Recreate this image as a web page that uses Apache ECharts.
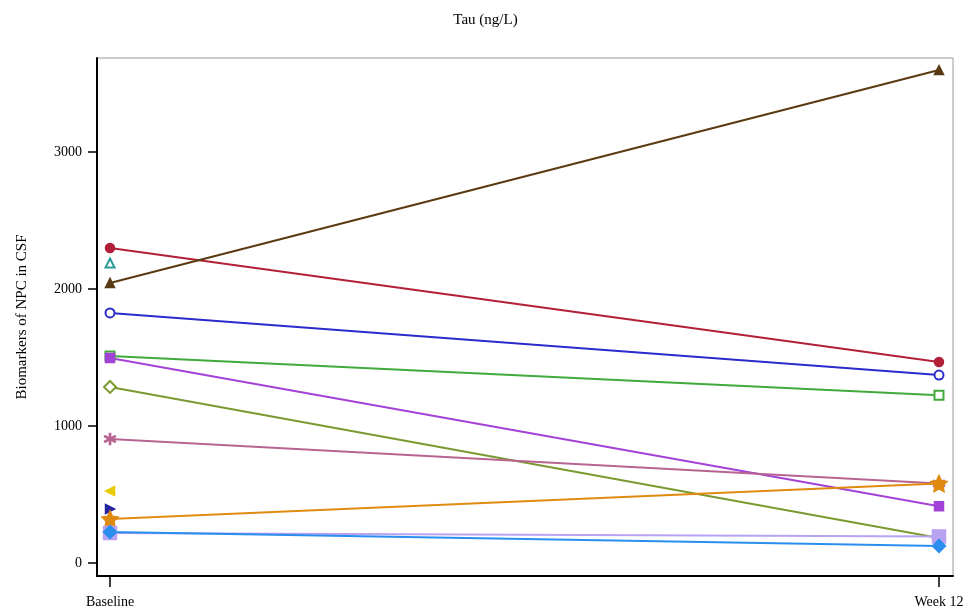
<!DOCTYPE html>
<html><head><meta charset="utf-8">
<script src="https://cdn.jsdelivr.net/npm/echarts@6/dist/echarts.min.js"></script>
<style>html,body{margin:0;padding:0;background:#fff}#c{width:971px;height:616px}</style>
</head><body><div id="c"></div>
<script>
const categories = ['Baseline', 'Week 12'];
const yTicks = [0, 1000, 2000, 3000];
const red = [2299, 1467];
const teal = [2190, null];
const brown = [2044, 3598];
const blue = [1825, 1372];
const green = [1511, 1224];
const purple = [1496, 414];
const olive = [1285, 182];
const mauve = [905, 580];
const yellow = [525, null];
const navy = [394, null];
const orange = [321, 580];
const lavender = [219, 194];
const skyblue = [226, 124];

const STAR = 'path://M0,-10L2.9,-4L9.5,-3.1L4.7,1.5L5.9,8.1L0,5L-5.9,8.1L-4.7,1.5L-9.5,-3.1L-2.9,-4Z';
const AST = 'path://M-1,-10L1,-10L1,10L-1,10Z M-8.2,-5.87L9.2,4.13L8.2,5.87L-9.2,-4.13Z M-9.2,4.13L8.2,-5.87L9.2,-4.13L-8.2,5.87Z';

function mk(name, vals, color, symbol, size, rot) {
  return {
    name, type: 'line', data: vals.map((v, i) => [i, v]),
    symbol, symbolSize: size, symbolRotate: rot || 0, showAllSymbol: true,
    lineStyle: { color, width: 2 }, itemStyle: { color, borderColor: color, borderWidth: 1.5 },
    connectNulls: false, animation: false, z: 3
  };
}

const chart = echarts.init(document.getElementById('c'));
chart.setOption({
  animation: false,
  backgroundColor: '#fff',
  title: { text: 'Tau (ng/L)', left: 'center', top: 8,
    textStyle: { fontFamily: 'Liberation Serif', fontSize: 15, fontWeight: 'normal', color: '#000' } },
  grid: { left: 97, right: 18, top: 58, bottom: 40, show: true, borderColor: '#999', borderWidth: 1,
    outerBoundsMode: 'none', containLabel: false },
  xAxis: {
    type: 'value', min: -0.0157, max: 1.0169,
    axisLine: { show: true, onZero: false, lineStyle: { color: '#000', width: 2 } },
    axisTick: { show: true, customValues: [0, 1], length: 11, inside: false, lineStyle: { color: '#000', width: 1.5 } },
    axisLabel: { customValues: [0, 1], formatter: v => categories[Math.round(v)], margin: 19,
      fontFamily: 'Liberation Serif', fontSize: 14, color: '#000' },
    splitLine: { show: false }
  },
  yAxis: {
    type: 'value', min: -95, max: 3686,
    name: 'Biomarkers of NPC in CSF', nameLocation: 'middle', nameGap: 67,
    nameTextStyle: { fontFamily: 'Liberation Serif', fontSize: 15, color: '#000' },
    axisLine: { show: true, onZero: false, lineStyle: { color: '#000', width: 2 } },
    axisTick: { show: true, customValues: yTicks, length: 9, lineStyle: { color: '#000', width: 1.5 } },
    axisLabel: { customValues: yTicks, formatter: v => String(v), margin: 15, fontFamily: 'Liberation Serif', fontSize: 14, color: '#000' },
    splitLine: { show: false }
  },
  series: [
    mk('red', red, '#B22038', 'circle', 9),
    mk('teal', teal, '#2E9A9A', 'emptyTriangle', 9),
    mk('brown', brown, '#5A3A12', 'triangle', 9),
    mk('blue', blue, '#2B2BCC', 'emptyCircle', 9),
    mk('green', green, '#40AA3C', 'emptyRect', 9),
    mk('purple', purple, '#A242D6', 'rect', 9),
    mk('olive', olive, '#7A9A30', 'emptyDiamond', 12),
    mk('mauve', mauve, '#B86490', AST, 11),
    mk('yellow', yellow, '#E8CC00', 'triangle', 9, 90),
    mk('navy', navy, '#2424A0', 'triangle', 9, -90),
    mk('orange', orange, '#E08A10', STAR, 16),
    mk('lavender', lavender, '#B8A2F2', 'rect', 13),
    mk('skyblue', skyblue, '#2A8EEE', 'diamond', 13)
  ]
});
</script></body></html>
